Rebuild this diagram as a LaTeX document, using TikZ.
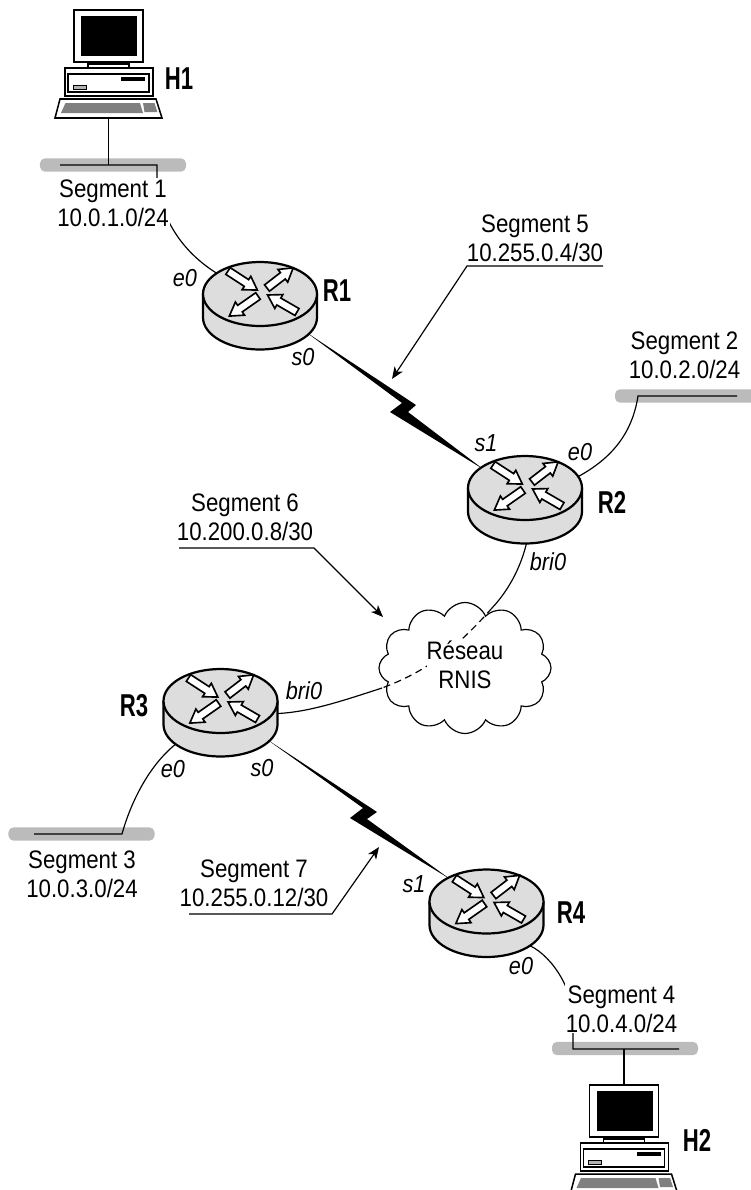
\documentclass[tikz,border=0pt]{standalone}
\usepackage{fontspec}
\setmainfont[FakeStretch=0.88]{Liberation Sans}
\newfontfamily\hostfont[FakeStretch=0.7]{Liberation Sans}
\usepackage{tikz}
\usetikzlibrary{arrows.meta,shapes.geometric,shapes.symbols}
\usepackage{xcolor}
\definecolor{routergray}{HTML}{DDDDDD}
\definecolor{bargray}{HTML}{BBBBBB}
\definecolor{keygray}{HTML}{808080}

\tikzset{
  routerbase/.style={ellipse, inner sep=0pt, minimum width=3.42cm, minimum height=2.61cm},
  hostbase/.style={inner sep=0pt, minimum width=3.21cm, minimum height=3.24cm},
  bar/.style={fill=bargray, rounded corners=0.15cm, inner sep=0pt, minimum width=4.38cm, minimum height=0.4cm},
  cable/.style={line width=1pt},
  bolt/.style={fill=black},
  pointer/.style={line width=1pt, -{Stealth[length=3.6mm,width=2.9mm,inset=1mm]}},
  seg/.style={anchor=base, inner sep=1pt, align=center, font=\fontsize{21.6}{24.6}\selectfont},
  segwhite/.style={seg, fill=white},
  iface/.style={font=\itshape\fontsize{21}{22}\selectfont, inner sep=0pt},
  hostname/.style={font=\hostfont\bfseries\fontsize{27}{28}\selectfont, inner sep=0pt},
  router/.pic={
    \draw[fill=routergray, line width=1.9pt] (-57,-11.5) -- (-57,12)
      arc[start angle=180, end angle=0, x radius=57, y radius=32] -- (57,-11.5);
    \draw[fill=routergray, line width=1.9pt] (0,-11.5) ellipse [x radius=57, y radius=32];
    \foreach \ang/\tx/\ty/\len in {-33/-32/-34.5/35, 37.6/7/-17.5/33, -145/-2/-9.5/35, 150/37/6.5/34}
      \draw[fill=white, line width=1.4pt, shift={(\tx,\ty)}, rotate=\ang]
        (0,-4) -- (\len-13,-4) -- (\len-13,-8) -- (\len,0) -- (\len-13,8) -- (\len-13,4) -- (0,4) -- cycle;
  },
  computer/.pic={
    \draw[line width=1.3pt, fill=white] (-34.5,-54) rectangle (34.5,-2);
    \fill (-27.5,-48) rectangle (28.5,-8);
    \draw[line width=0.8pt, fill=white] (-15.5,-2) rectangle (16.5,0);
    \draw[line width=1.3pt, fill=white] (-20.5,0) rectangle (20.5,4);
    \draw[line width=1.3pt, fill=white] (-43.5,4) rectangle (44.5,32);
    \draw[line width=0.9pt] (-40.5,10) rectangle (40.5,28);
    \fill (12.5,13) rectangle (36.5,17);
    \draw[line width=0.7pt, fill=keygray!60] (-35.5,21) rectangle (-22.5,25);
    \draw[line width=1.3pt, fill=white] (-53.5,54) -- (-48.5,35) -- (47.5,35) -- (53.5,54) -- cycle;
    \fill[keygray] (-47.5,49) -- (-43,39) -- (31.5,39) -- (34.5,49) -- cycle;
    \fill[keygray] (36,48) -- (34.5,39) -- (46,39) -- (49,48) -- cycle;
  }
}

\begin{document}
\begin{tikzpicture}[x=0.03cm, y=-0.03cm]
\clip (0,0) rectangle (751,1190);

% routers and hosts
\node[routerbase] (R1) at (260,305.5) {};
\node[routerbase] (R2) at (525,499.5) {};
\node[routerbase] (R3) at (220.5,712.5) {};
\node[routerbase] (R4) at (486.5,913) {};
\node[hostbase] (H1) at (108.5,64) {};
\node[hostbase] (H2) at (624,1139) {};

% segments
\node[bar] (S1) at (113,165) {};
\node[bar] (S2) at (688,396) {};
\node[bar] (S3) at (81.5,834) {};
\node[bar] (S4) at (625,1048.5) {};
\coordinate (S1a) at (60,165);
\coordinate (S1b) at (157,165);
\coordinate (S2a) at (737,396);
\coordinate (S2b) at (638,396);
\coordinate (S3a) at (34,834);
\coordinate (S3b) at (122,834);
\coordinate (S4a) at (679,1049);
\coordinate (S4b) at (573,1049);

% RNIS cloud
\node[cloud, draw, fill=white, line width=1pt, cloud puffs=12, cloud puff arc=135,
  aspect=1.3, inner sep=0pt, minimum width=5.16cm, minimum height=3.93cm] (rnis) at (465,668) {};
\coordinate (rnisin) at (492,608);
\coordinate (rnisout) at (382,688);

% links
\draw[cable] (H1.south) -- (H1.south |- S1.center);
\draw[cable] (H2.north) -- (H2.north |- S4.center);
\draw[cable] (S1a) -- (S1b) -- (157,185) .. controls (162,215) and (178,250) .. (R1.143);
\draw[cable] (S2a) -- (S2b) .. controls (632,435) and (610,460) .. (R2.23);
\draw[cable] (S3a) -- (S3b) .. controls (130,805) and (148,765) .. (R3.215);
\draw[cable] (S4a) -- (S4b) -- (573,1020) .. controls (573,985) and (548,952) .. (R4.-38);
\draw[cable] (R2.-88) .. controls (520,570) and (507,592) .. (rnisin);
\draw[cable, dash pattern=on 6pt off 4pt] (rnisin) .. controls (455,650) and (425,672) .. (rnisout);
\draw[cable] (rnisout) .. controls (345,700) and (310,712) .. (R3.-1);
\fill[bolt] (R1.-30) -- (416,405) -- (408,412) -- (R2.144) -- (390,412) -- (402,403) -- cycle;
\fill[bolt] (R3.-30) -- (377,812) -- (367,819) -- (R4.137.7) -- (350,818) -- (363,808) -- cycle;

\foreach \r in {R1,R2,R3,R4}
  \pic at (\r) {router};
\foreach \h in {H1,H2}
  \pic at (\h) {computer};

% texts
\node[hostname] (H1txt) at (179,79) {H1};
\node[hostname] (H2txt) at (697,1140) {H2};
\node[hostname] (R1txt) at (337,291) {R1};
\node[hostname] (R2txt) at (612,502) {R2};
\node[hostname] (R3txt) at (134,706) {R3};
\node[hostname] (R4txt) at (571,913) {R4};
\node[segwhite] (S1txt) at (113,226) {Segment 1\\10.0.1.0/24};
\node[seg] (S2txt) at (684.5,378) {Segment 2\\10.0.2.0/24};
\node[seg] (S3txt) at (82,897) {Segment 3\\10.0.3.0/24};
\node[segwhite] (S4txt) at (621.5,1032) {Segment 4\\10.0.4.0/24};
\node[seg] (S5txt) at (535,261) {Segment 5\\10.255.0.4/30};
\node[seg] (S6txt) at (245,540) {Segment 6\\10.200.0.8/30};
\node[seg] (S7txt) at (254,906) {Segment 7\\10.255.0.12/30};
\node[segwhite, inner sep=0pt] (rnistxt) at (465,688) {Réseau\\RNIS};

% pointers
\coordinate (S5a) at (603,266);
\coordinate (S5b) at (467,266);
\coordinate (S5c) at (392,379);
\coordinate (S6a) at (179,548);
\coordinate (S6b) at (314,548);
\coordinate (S6c) at (383,617);
\coordinate (S7a) at (189,914);
\coordinate (S7b) at (332,914);
\coordinate (S7c) at (379,847);
\draw[pointer] (S5a) -- (S5b) -- (S5c);
\draw[pointer] (S6a) -- (S6b) -- (S6c);
\draw[pointer] (S7a) -- (S7b) -- (S7c);

% interfaces
\node[iface] (R1e0) at (185,278) {e0};
\node[iface] (R1s0) at (303,357) {s0};
\node[iface] (R2s1) at (486,443) {s1};
\node[iface] (R2e0) at (580,452) {e0};
\node[iface] (R2bri) at (548,562) {bri0};
\node[iface] (R3bri) at (304,691) {bri0};
\node[iface] (R3e0) at (173,769) {e0};
\node[iface] (R3s0) at (262,768) {s0};
\node[iface] (R4s1) at (414,884) {s1};
\node[iface] (R4e0) at (521,966) {e0};
\end{tikzpicture}
\end{document}
